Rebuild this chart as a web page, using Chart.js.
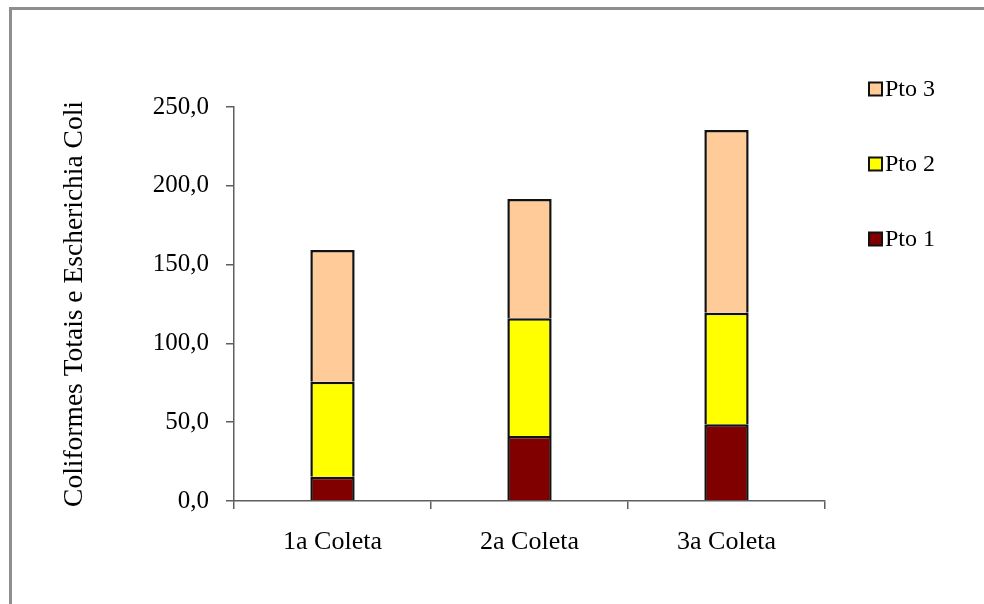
<!DOCTYPE html>
<html>
<head>
<meta charset="utf-8">
<script src="https://cdn.jsdelivr.net/npm/chart.js@4"></script>
<style>
  html, body { margin: 0; padding: 0; background: #ffffff; overflow: hidden; }
  #wrap { position: relative; width: 984px; height: 604px; }
  #frame {
    position: absolute; left: 9px; top: 7px; width: 1100px; height: 700px;
    border: 3px solid #8e8e8e; pointer-events: none; box-sizing: border-box;
  }
  canvas { position: absolute; left: 0; top: 0; }
</style>
</head>
<body>
<div id="wrap">
  <canvas id="chart" width="984" height="604"></canvas>
  <div id="frame"></div>
</div>
<script>
// Sampling campaigns and results per sampling point
const categories = ['1a Coleta', '2a Coleta', '3a Coleta'];
const pto1 = [15.4, 41.2, 48.7];
const pto2 = [60.3, 74.7, 70.8];
const pto3 = [83.6, 75.7, 115.9];
const seriesNames = ['Pto 1', 'Pto 2', 'Pto 3'];
const yTickLabels = ['0,0', '50,0', '100,0', '150,0', '200,0', '250,0'];
const yTitle = 'Coliformes Totais e Escherichia Coli';

const SERIF = "'Liberation Serif', 'Times New Roman', serif";
const AXIS_GREY = '#5e5e5e';

// Legend drawn at the right, top-down in reverse series order
const sideLegend = {
  id: 'sideLegend',
  afterDraw(chart) {
    const ctx = chart.ctx;
    const ds = chart.data.datasets;
    const x = 869, firstY = 89, step = 75, box = 13;
    ctx.save();
    ctx.font = '24px ' + SERIF;
    ctx.textBaseline = 'middle';
    ctx.textAlign = 'left';
    for (let k = 0; k < ds.length; k++) {
      const d = ds[ds.length - 1 - k];
      const cy = firstY + k * step;
      ctx.fillStyle = d.backgroundColor;
      ctx.fillRect(x, cy - box / 2, box, box);
      ctx.lineWidth = 2;
      ctx.strokeStyle = '#111111';
      ctx.strokeRect(x, cy - box / 2, box, box);
      ctx.fillStyle = '#000000';
      ctx.fillText(d.label, x + box + 3, cy + 1);
    }
    ctx.restore();
  }
};

// Each segment keeps its top and side edges; the bottom edge is skipped so
// stacked boundaries show a single dividing line.
const barStyle = {
  borderColor: '#111111',
  borderWidth: 2.5,
  borderSkipped: 'start',
  barPercentage: 0.225,
  categoryPercentage: 1.0
};

new Chart(document.getElementById('chart'), {
  type: 'bar',
  data: {
    labels: categories,
    datasets: [
      Object.assign({ label: seriesNames[0], data: pto1, backgroundColor: '#800000' }, barStyle),
      Object.assign({ label: seriesNames[1], data: pto2, backgroundColor: '#ffff00' }, barStyle),
      Object.assign({ label: seriesNames[2], data: pto3, backgroundColor: '#ffcc99' }, barStyle)
    ]
  },
  options: {
    responsive: false,
    animation: false,
    devicePixelRatio: 1,
    layout: { padding: { left: 0, top: 107, right: 159, bottom: 43 } },
    plugins: {
      legend: { display: false },
      tooltip: { enabled: false }
    },
    scales: {
      x: {
        stacked: true,
        afterFit(s) { s.height = 60; },
        grid: {
          offset: true,
          drawOnChartArea: false,
          drawTicks: true,
          tickLength: 8,
          color: AXIS_GREY,
          lineWidth: 1.5
        },
        border: { color: AXIS_GREY, width: 1.5 },
        ticks: {
          color: '#000000',
          padding: 18,
          maxRotation: 0,
          font: { family: SERIF, size: 26 }
        }
      },
      y: {
        stacked: true,
        min: 0,
        max: 250,
        afterFit(s) { s.width = 234; },
        grid: {
          drawOnChartArea: false,
          drawTicks: true,
          tickLength: 8,
          color: AXIS_GREY,
          lineWidth: 1.5
        },
        border: { color: AXIS_GREY, width: 1.5 },
        ticks: {
          stepSize: 50,
          color: '#000000',
          padding: 17,
          font: { family: SERIF, size: 25 },
          callback: (v, i) => yTickLabels[i]
        },
        title: {
          display: true,
          text: yTitle,
          color: '#000000',
          font: { family: SERIF, size: 27.5 },
          padding: { top: 58, bottom: 0 }
        }
      }
    }
  },
  plugins: [sideLegend]
});
</script>
</body>
</html>
